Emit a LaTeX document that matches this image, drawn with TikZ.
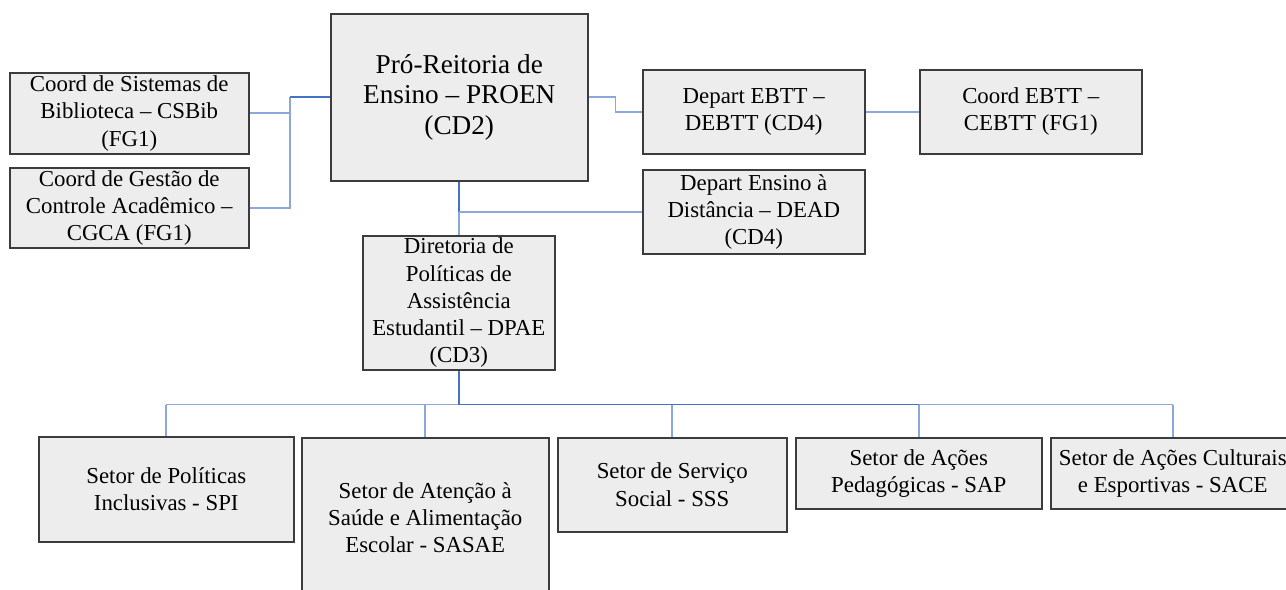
\documentclass[tikz,border=0pt]{standalone}
\usepackage{fontspec}
\setmainfont{Liberation Serif}
\definecolor{boxgray}{RGB}{237,237,237}
\definecolor{edgegray}{RGB}{60,60,60}
\definecolor{linkblue}{RGB}{68,114,196}
\definecolor{linklight}{RGB}{140,168,218}
\usetikzlibrary{positioning, calc}

\begin{document}
\begin{tikzpicture}[x=0.02cm, y=-0.02cm,
  unit/.style={draw=edgegray, fill=boxgray, line width=0.9pt, align=center, inner sep=1pt, anchor=north west, font=\fontsize{13}{15.5}\selectfont},
  trunk/.style={draw=linkblue, line width=1pt},
  branch/.style={draw=linklight, line width=0.9pt}]
  \clip (0,0) rectangle (1286,590);
  \fill[white] (0,0) rectangle (1286,590);

  \node[unit, minimum width=5.14cm, minimum height=3.34cm, font=\fontsize{15.5}{17.5}\selectfont] (proen) at (330,13) {Pró-Reitoria de\\Ensino – PROEN\\(CD2)};
  \node[unit, minimum width=4.78cm, minimum height=1.62cm] (csbib) at (9,72) {Coord de Sistemas de\\Biblioteca – CSBib\\(FG1)};
  \node[unit, minimum width=4.78cm, minimum height=1.60cm] (cgca) at (9,167) {Coord de Gestão de\\Controle Acadêmico –\\CGCA (FG1)};
  \node[unit, minimum width=4.44cm, minimum height=1.68cm] (debtt) at (642,69) {Depart EBTT –\\DEBTT (CD4)};
  \node[unit, minimum width=4.44cm, minimum height=1.68cm] (cebtt) at (919,69) {Coord EBTT –\\CEBTT (FG1)};
  \node[unit, minimum width=4.44cm, minimum height=1.68cm] (dead) at (642,169) {Depart Ensino à\\Distância – DEAD\\(CD4)};
  \node[unit, minimum width=3.84cm, minimum height=2.68cm] (dpae) at (362,235) {Diretoria de\\Políticas de\\Assistência\\Estudantil – DPAE\\(CD3)};

  \node[unit, minimum width=5.10cm, minimum height=2.10cm] (spi) at (38,436) {Setor de Políticas\\Inclusivas - SPI};
  \node[unit, minimum width=4.94cm, minimum height=3.20cm] (sasae) at (301,437) {Setor de Atenção à\\Saúde e Alimentação\\Escolar - SASAE};
  \node[unit, minimum width=4.58cm, minimum height=1.88cm] (sss) at (557,437) {Setor de Serviço\\Social - SSS};
  \node[unit, minimum width=4.92cm, minimum height=1.42cm] (sap) at (795,437) {Setor de Ações\\Pedagógicas - SAP};
  \node[unit, minimum width=4.88cm, minimum height=1.42cm] (sace) at (1050,437) {Setor de Ações Culturais\\e Esportivas - SACE};

  \path (proen.west) ++(-40,0) coordinate (lj);
  \path (proen.east) ++(27,0) coordinate (rj);
  \path (dpae.south) ++(0,34) coordinate (bus);

  \draw[branch] (csbib.east) -- (csbib.east -| lj);
  \draw[branch] (cgca.east) -| (lj);
  \draw[trunk] (lj) -- (proen.west);
  \draw[branch] (proen.east) -- (rj) |- (debtt.west);
  \draw[branch] (debtt.east) -- (cebtt.west);
  \draw[trunk] (proen.south) -- (proen.south |- dead.west) coordinate (dj);
  \draw[branch] (dj) -- (dead.west);
  \draw[branch] (dj) -- (dj |- dpae.north);

  \draw[branch] (spi.north |- bus) -- (bus);
  \draw[branch] (sap.north |- bus) -- (sace.north |- bus);
  \draw[trunk] (dpae.south) -- (bus) -- (bus -| sap.north);
  \foreach \s in {spi, sasae, sss, sap, sace}
    \draw[branch] (\s.north |- bus) -- (\s.north);
\end{tikzpicture}
\end{document}
